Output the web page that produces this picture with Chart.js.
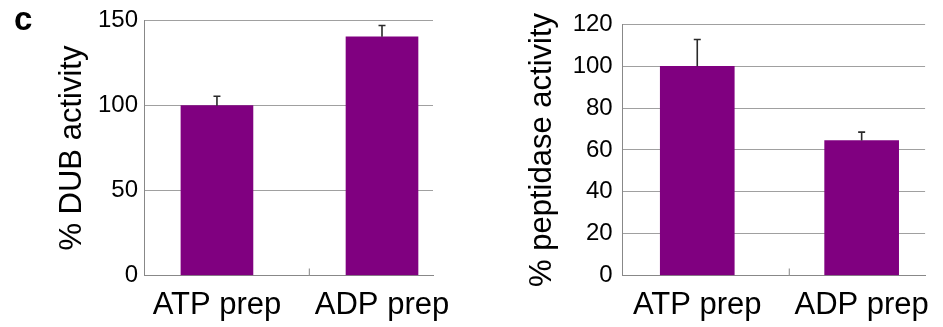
<!DOCTYPE html>
<html>
<head>
<meta charset="utf-8">
<script src="https://cdn.jsdelivr.net/npm/chart.js@4.4.1/dist/chart.umd.min.js"></script>
<style>
  html, body { margin: 0; padding: 0; background: #fff; }
  #wrap { position: relative; width: 943px; height: 327px; }
  .box { position: absolute; top: 0; height: 327px; }
</style>
</head>
<body>
<div id="wrap">
  <div class="box" style="left:0;width:470px"><canvas id="dub" width="470" height="327"></canvas></div>
  <div class="box" style="left:470px;width:473px"><canvas id="pep" width="473" height="327"></canvas></div>
</div>
<script>
// data
var categories = ['ATP prep', 'ADP prep'];
var positions = [0, 1];
var dubValues = [100, 140.5];
var dubErrors = [5.5, 6.7];
var dubTicks = [0, 50, 100, 150];
var pepValues = [100, 64.5];
var pepErrors = [12.8, 4];
var pepTicks = [0, 20, 40, 60, 80, 100, 120];
var panelLetter = 'c';

Chart.defaults.font.family = "'Liberation Sans', Arial, sans-serif";
Chart.defaults.color = '#000';

// error bars + small tick between the two categories
var errorBars = {
    id: 'errorBars',
    afterDatasetsDraw: function (chart) {
        var ctx = chart.ctx;
        var xs = chart.scales.x, ys = chart.scales.y;
        var ds = chart.data.datasets[0];
        ctx.save();
        ctx.strokeStyle = '#2a2a2a';
        ctx.lineWidth = 1.6;
        ds.data.forEach(function (pt, i) {
            var x = xs.getPixelForValue(pt.x);
            var y0 = ys.getPixelForValue(pt.y);
            var y1 = ys.getPixelForValue(pt.y + ds.errors[i]);
            ctx.beginPath();
            ctx.moveTo(x, y0);
            ctx.lineTo(x, y1);
            ctx.moveTo(x - 3.5, y1);
            ctx.lineTo(x + 3.5, y1);
            ctx.stroke();
        });
        var mx = xs.getPixelForValue(0.56);
        ctx.strokeStyle = '#999';
        ctx.lineWidth = 1.2;
        ctx.beginPath();
        ctx.moveTo(mx, chart.chartArea.bottom - 7);
        ctx.lineTo(mx, chart.chartArea.bottom);
        ctx.stroke();
        ctx.restore();
    }
};

var letterPlugin = {
    id: 'letter',
    afterDraw: function (chart) {
        var ctx = chart.ctx;
        ctx.save();
        ctx.fillStyle = '#000';
        ctx.font = "bold 33px 'Liberation Sans', Arial, sans-serif";
        ctx.textBaseline = 'alphabetic';
        ctx.fillText(panelLetter, 14, 30);
        ctx.restore();
    }
};

function makeChart(id, values, errors, yTicks, cfg, extra) {
    return new Chart(document.getElementById(id), {
        type: 'bar',
        data: {
            datasets: [{
                data: positions.map(function (p, i) { return { x: p, y: values[i] }; }),
                backgroundColor: '#800080',
                borderWidth: 0,
                barThickness: cfg.barWidth,
                errors: errors
            }]
        },
        options: {
            responsive: false,
            animation: false,
            events: [],
            layout: { padding: { left: 0, right: cfg.padRight, top: cfg.padTop, bottom: 0 } },
            plugins: { legend: { display: false }, tooltip: { enabled: false } },
            scales: {
                x: {
                    type: 'linear',
                    min: cfg.xMin,
                    max: cfg.xMax,
                    offset: false,
                    afterBuildTicks: function (s) {
                        s.ticks = positions.map(function (p) { return { value: p }; });
                    },
                    afterFit: function (s) { s.height = cfg.xHeight; },
                    grid: { display: false, drawTicks: false },
                    border: { display: true, color: '#888', width: 1 },
                    ticks: {
                        padding: 11,
                        autoSkip: false,
                        maxRotation: 0,
                        font: { size: 31 },
                        callback: function (v) { return categories[positions.indexOf(v)]; }
                    }
                },
                y: {
                    min: yTicks[0],
                    max: yTicks[yTicks.length - 1],
                    afterBuildTicks: function (s) {
                        s.ticks = yTicks.map(function (v) { return { value: v }; });
                    },
                    afterFit: function (s) { s.width = cfg.yWidth; },
                    grid: {
                        drawTicks: false,
                        color: function (c) { return c.tick && c.tick.value === 0 ? '#888' : '#a0a0a0'; }
                    },
                    border: { display: true, color: '#888', width: 1 },
                    ticks: { padding: cfg.tickPad, font: { size: 24 } },
                    title: {
                        display: true,
                        text: cfg.title,
                        font: { size: 31 },
                        padding: { top: 54, bottom: 0 }
                    }
                }
            }
        },
        plugins: [errorBars].concat(extra || [])
    });
}

makeChart('dub', dubValues, dubErrors, dubTicks, {
    title: '% DUB activity',
    padTop: 20.7, padRight: 37, xHeight: 51.5, yWidth: 144, tickPad: 6,
    barWidth: 72, xMin: -0.442, xMax: 1.309
}, [letterPlugin]);

makeChart('pep', pepValues, pepErrors, pepTicks, {
    title: '% peptidase activity',
    padTop: 16.7, padRight: 15, xHeight: 51.5, yWidth: 152.7, tickPad: 10,
    barWidth: 74, xMin: -0.4536, xMax: 1.386
});
</script>
</body>
</html>
